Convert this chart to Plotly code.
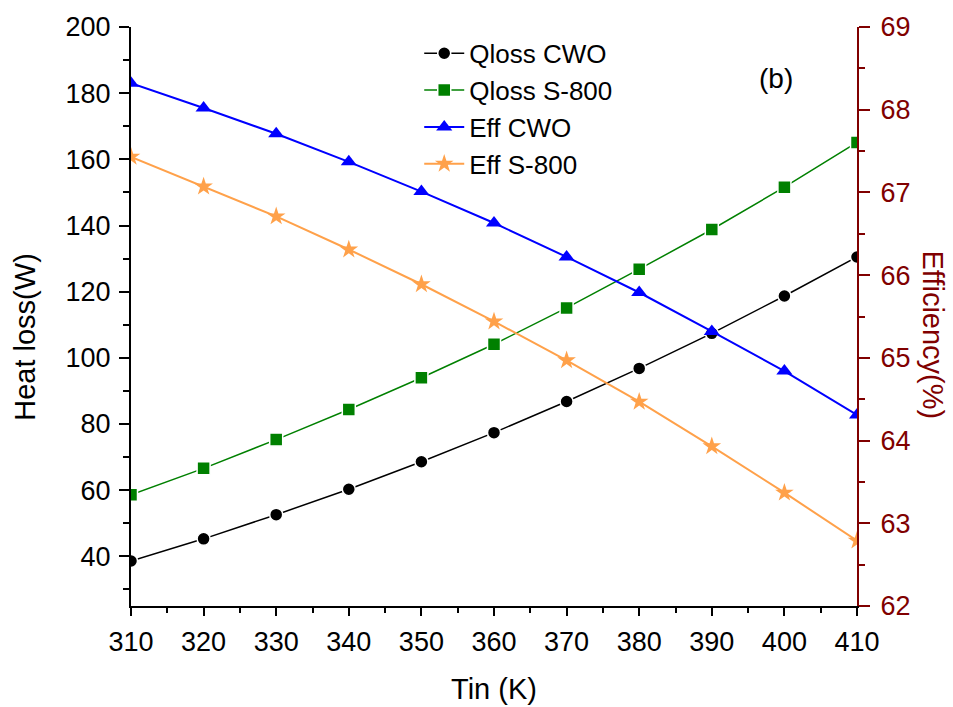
import plotly.graph_objects as go

# Inlet temperature (K)
tin = [310, 320, 330, 340, 350, 360, 370, 380, 390, 400, 410]

# Heat loss (W)
qloss_cwo = [38.6, 45.3, 52.6, 60.3, 68.6, 77.4, 86.8, 96.8, 107.4, 118.7, 130.5]
qloss_s800 = [58.6, 66.6, 75.3, 84.4, 94.0, 104.1, 115.1, 126.8, 138.8, 151.6, 165.1]

# Efficiency (%)
eff_cwo = [68.32, 68.02, 67.71, 67.37, 67.01, 66.63, 66.22, 65.79, 65.32, 64.84, 64.31]
eff_s800 = [67.43, 67.07, 66.71, 66.31, 65.89, 65.44, 64.97, 64.47, 63.93, 63.37, 62.79]

FONT = "Liberation Sans, Arial, sans-serif"
WINE = "#800000"
ORANGE = "#FFA14A"

fig = go.Figure()

fig.add_trace(go.Scatter(
    x=tin, y=qloss_cwo, name="Qloss CWO", mode="lines+markers",
    line=dict(color="black", width=1.5),
    marker=dict(symbol="circle", size=13, color="black",
                line=dict(color="white", width=1.5)),
))
fig.add_trace(go.Scatter(
    x=tin, y=qloss_s800, name="Qloss S-800", mode="lines+markers",
    line=dict(color="#008000", width=1.5),
    marker=dict(symbol="square", size=13, color="#008000",
                line=dict(color="white", width=1.5)),
))
fig.add_trace(go.Scatter(
    x=tin, y=eff_cwo, name="Eff CWO", mode="lines+markers", yaxis="y2",
    line=dict(color="#0000FF", width=2),
    marker=dict(symbol="triangle-up", size=14, color="#0000FF"),
))
fig.add_trace(go.Scatter(
    x=tin, y=eff_s800, name="Eff S-800", mode="lines+markers", yaxis="y2",
    line=dict(color=ORANGE, width=2),
    marker=dict(symbol="star", size=14, color=ORANGE),
))

tick_font = dict(family=FONT, size=27, color="black")

fig.update_layout(
    width=953, height=707,
    margin=dict(l=131, r=96, t=22, b=101),
    paper_bgcolor="white", plot_bgcolor="white",
    font=dict(family=FONT, color="black"),
    showlegend=True,
    legend=dict(
        x=0.397, y=0.995, xanchor="left", yanchor="top",
        bgcolor="rgba(0,0,0,0)", borderwidth=0,
        font=dict(family=FONT, size=26, color="black"),
        tracegroupgap=0, itemwidth=40,
    ),
    xaxis=dict(
        range=[310, 410], tickmode="linear", tick0=310, dtick=10,
        showgrid=False, zeroline=False,
        showline=True, linecolor="black", linewidth=2,
        ticks="outside", ticklen=8, tickwidth=2, tickcolor="black",
        minor=dict(ticks="outside", ticklen=5, tickwidth=2, dtick=5,
                   tick0=310, tickcolor="black", showgrid=False),
        tickfont=tick_font, ticklabelstandoff=3,
    ),
    xaxis2=dict(
        overlaying="x", side="top", anchor="y",
        range=[310, 410], tickmode="linear", tick0=310, dtick=10,
        showgrid=False, zeroline=False, showticklabels=False,
        showline=True, linecolor="black", linewidth=2,
        ticks="inside", ticklen=11, tickwidth=2, tickcolor="black",
        minor=dict(ticks="inside", ticklen=7, tickwidth=2, dtick=5,
                   tick0=310, tickcolor="black", showgrid=False),
    ),
    yaxis=dict(
        range=[25, 200], tickmode="linear", tick0=40, dtick=20,
        showgrid=False, zeroline=False,
        showline=True, linecolor="black", linewidth=2,
        ticks="outside", ticklen=10, tickwidth=2, tickcolor="black",
        minor=dict(ticks="outside", ticklen=6, tickwidth=2, dtick=10,
                   tick0=30, tickcolor="black", showgrid=False),
        tickfont=tick_font, ticklabelstandoff=3,
    ),
    yaxis2=dict(
        overlaying="y", side="right", anchor="x",
        range=[62, 69], tickmode="linear", tick0=62, dtick=1,
        showgrid=False, zeroline=False,
        showline=True, linecolor=WINE, linewidth=2,
        ticks="outside", ticklen=11, tickwidth=2, tickcolor=WINE,
        minor=dict(ticks="outside", ticklen=6, tickwidth=2, dtick=0.5,
                   tick0=62, tickcolor=WINE, showgrid=False),
        tickfont=dict(family=FONT, size=27, color=WINE), ticklabelstandoff=5,
    ),
    annotations=[
        dict(text="Tin (K)", xref="paper", yref="paper", x=0.5, y=-0.144,
             xanchor="center", yanchor="middle", showarrow=False,
             font=dict(family=FONT, size=29, color="black")),
        dict(text="Heat loss(W)", xref="paper", yref="paper", x=-0.146, y=0.465,
             xanchor="center", yanchor="middle", showarrow=False, textangle=-90,
             font=dict(family=FONT, size=29, color="black")),
        dict(text="Efficiency(%)", xref="paper", yref="paper", x=1.104, y=0.468,
             xanchor="center", yanchor="middle", showarrow=False, textangle=90,
             font=dict(family=FONT, size=29, color=WINE)),
        dict(text="(b)", xref="paper", yref="paper", x=0.889, y=0.911,
             xanchor="center", yanchor="middle", showarrow=False,
             font=dict(family=FONT, size=28, color="black")),
    ],
)

fig.write_html("out.html")
